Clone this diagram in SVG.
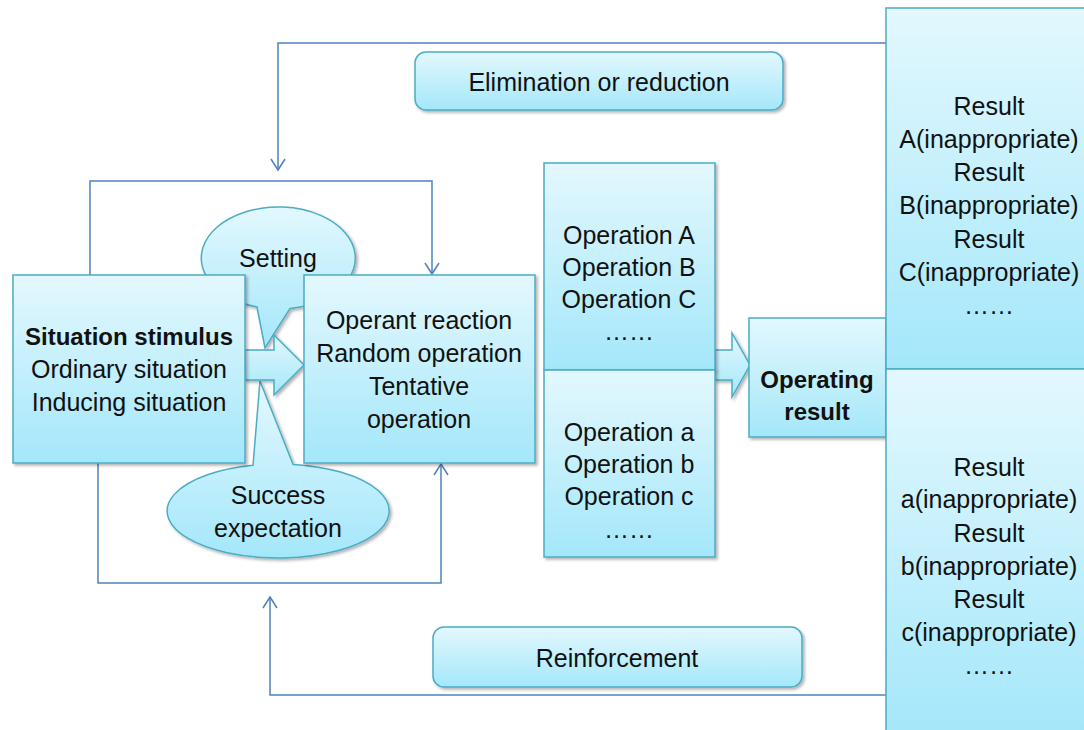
<svg xmlns="http://www.w3.org/2000/svg" width="1084" height="730" viewBox="0 0 1084 730">
<defs>
<linearGradient id="g" x1="0" y1="0" x2="0" y2="1">
<stop offset="0" stop-color="#e3f8fe"/>
<stop offset="1" stop-color="#a4e7fa"/>
</linearGradient>
<filter id="sh" x="-10%" y="-10%" width="130%" height="130%">
<feDropShadow dx="2" dy="2" stdDeviation="1.5" flood-color="#000" flood-opacity="0.3"/>
</filter>
<marker id="arr" markerUnits="userSpaceOnUse" markerWidth="20" markerHeight="20" viewBox="-12 -10 14 20" refX="0" refY="0" orient="auto">
<path d="M-11,-7 L0,0 L-11,7" fill="none" stroke="#4f81bd" stroke-width="1.5"/>
</marker>
<style>
.box{fill:url(#g);stroke:#4bacc6;stroke-width:1.5;filter:url(#sh)}
.con{fill:none;stroke:#4f81bd;stroke-width:1.5;marker-end:url(#arr)}
text{font-family:"Liberation Sans",Arial,sans-serif;font-size:25px;fill:#111;text-anchor:middle}
.b{font-weight:bold;font-size:24px}
</style>
</defs>
<rect width="1084" height="730" fill="#fff"/>

<g id="connectors">
<path class="con" d="M90 275 V181 H432 V274"/>
<path class="con" d="M98 463 V583 H441 V464"/>
<path class="con" d="M886 43 H278 V170"/>
<path class="con" d="M886 695 H270 V597"/>
</g>

<g id="setting">
<path class="box" d="M257 307 A77 51 0 1 1 290 308.4 L265 348 Z"/>
<text x="278" y="267">Setting</text>
</g>
<g id="success">
<path class="box" d="M293 464.4 A111 47 0 1 1 253 465.2 L260 381 Z"/>
<text x="278" y="504">Success</text>
<text x="278" y="537">expectation</text>
</g>

<g id="arrow1">
<path class="box" d="M245 350 H274 V335 L304 365 L274 395 V380 H245 Z"/>
</g>
<g id="arrow2">
<path class="box" d="M715 350 H732 V333 L750 365 L732 397 V380 H715 Z"/>
</g>

<g id="situation">
<rect class="box" x="13" y="275" width="232" height="188"/>
<text class="b" x="129" y="345">Situation stimulus</text>
<text x="129" y="378">Ordinary situation</text>
<text x="129" y="411">Inducing situation</text>
</g>

<g id="operant">
<rect class="box" x="304" y="275" width="231" height="188"/>
<text x="419" y="329">Operant reaction</text>
<text x="419" y="362">Random operation</text>
<text x="419" y="395">Tentative</text>
<text x="419" y="428">operation</text>
</g>

<g id="operations-upper">
<rect class="box" x="544" y="163" width="171" height="207"/>
<text x="629" y="244">Operation A</text>
<text x="629" y="276">Operation B</text>
<text x="629" y="308">Operation C</text>
<text x="629" y="340">……</text>
</g>
<g id="operations-lower">
<rect class="box" x="544" y="370" width="171" height="187"/>
<text x="629" y="441">Operation a</text>
<text x="629" y="473">Operation b</text>
<text x="629" y="505">Operation c</text>
<text x="629" y="538">……</text>
</g>

<g id="operating-result">
<rect class="box" x="749" y="318" width="137" height="119"/>
<text class="b" x="817" y="388">Operating</text>
<text class="b" x="817" y="420">result</text>
</g>

<g id="result-upper">
<rect class="box" x="886" y="8" width="210" height="361"/>
<text x="989" y="115">Result</text>
<text x="989" y="148">A(inappropriate)</text>
<text x="989" y="181">Result</text>
<text x="989" y="214">B(inappropriate)</text>
<text x="989" y="248">Result</text>
<text x="989" y="281">C(inappropriate)</text>
<text x="989" y="314">……</text>
</g>
<g id="result-lower">
<rect class="box" x="886" y="369" width="210" height="370"/>
<text x="989" y="476">Result</text>
<text x="989" y="508">a(inappropriate)</text>
<text x="989" y="542">Result</text>
<text x="989" y="575">b(inappropriate)</text>
<text x="989" y="608">Result</text>
<text x="989" y="641">c(inappropriate)</text>
<text x="989" y="674">……</text>
</g>

<g id="elimination">
<rect class="box" x="415" y="52" width="368" height="58" rx="11"/>
<text x="599" y="91">Elimination or reduction</text>
</g>
<g id="reinforcement">
<rect class="box" x="433" y="627" width="369" height="60" rx="11"/>
<text x="617" y="667">Reinforcement</text>
</g>
</svg>
